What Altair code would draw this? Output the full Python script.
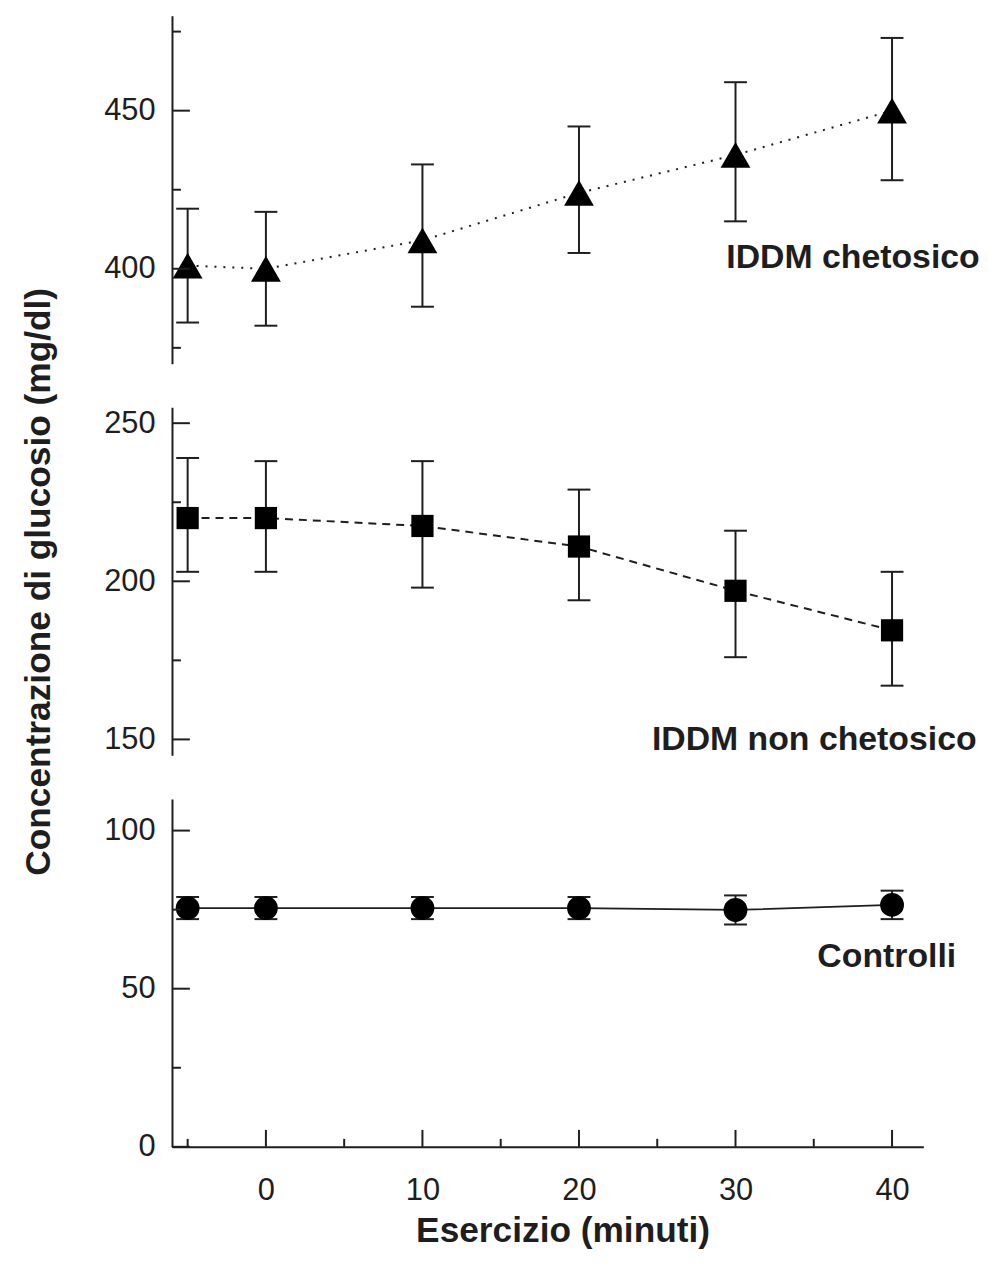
import altair as alt
import pandas as pd

# ---- data ----
minutes = [-5, 0, 10, 20, 30, 40]

ket_mean = [401, 400, 409, 424, 436, 450]
ket_low = [383, 382, 388, 405, 415, 428]
ket_high = [419, 418, 433, 445, 459, 473]

non_mean = [220, 220, 217.5, 211, 197, 184.5]
non_low = [203, 203, 198, 194, 176, 167]
non_high = [239, 238, 238, 229, 216, 203]

ctl_mean = [75.5, 75.5, 75.5, 75.5, 74.9, 76.5]
ctl_low = [72, 72, 72, 72, 70.3, 72]
ctl_high = [79, 79, 79, 79, 79.5, 81]

x_major = [0, 10, 20, 30, 40]
x_minor = [-5, 5, 15, 25, 35]

FONT = "Liberation Sans"
INK = "#1e1e1e"
W = 756
H = 350


def panel(mean, low, high, shape, msize, dash, ydom, ymajor, yminor,
          label, label_x, label_y, bottom=False, ytitle=None):
    df = pd.DataFrame({"t": minutes, "m": mean, "lo": low, "hi": high})
    caps = pd.DataFrame({"t": minutes * 2, "c": low + high})
    yscale = alt.Scale(domain=ydom, nice=False, zero=False)
    xscale = alt.Scale(domain=[-6, 42], nice=False, zero=False)
    if ytitle:
        yaxis = alt.Axis(values=ymajor, format="d", ticks=False, grid=False,
                         labelPadding=17, title=ytitle, titleAngle=270,
                         titleX=-123, titleY=H / 2, titleBaseline="alphabetic",
                         titleAlign="center", titleFontSize=35.5,
                         titleFontWeight="bold")
    else:
        yaxis = alt.Axis(values=ymajor, format="d", ticks=False, grid=False,
                         labelPadding=17, title=None)
    if bottom:
        xaxis = alt.Axis(values=x_major, ticks=False, grid=False,
                         labelPadding=29, title="Esercizio (minuti)",
                         titleX=393, titleY=95, titleBaseline="alphabetic",
                         titleAlign="center", titleFontSize=35.5,
                         titleFontWeight="bold")
    else:
        xaxis = None

    X = lambda f: alt.X(f, type="quantitative", scale=xscale, axis=xaxis)
    Y = lambda f: alt.Y(f, type="quantitative", scale=yscale, axis=yaxis)

    line_kw = dict(color=INK, strokeWidth=2 if dash else 1.8)
    if dash:
        line_kw["strokeDash"] = dash
    line = alt.Chart(df).mark_line(**line_kw).encode(x=X("t"), y=Y("m"))
    bars = alt.Chart(df).mark_rule(color=INK, strokeWidth=2).encode(
        x=X("t"), y=Y("lo"), y2="hi")
    capm = alt.Chart(caps).mark_tick(color=INK, orient="horizontal", size=23,
                                     thickness=2, opacity=1).encode(x=X("t"), y=Y("c"))
    pts = alt.Chart(df).mark_point(shape=shape, filled=True, size=msize,
                                   color="black", opacity=1).encode(x=X("t"), y=Y("m"))
    ymaj = alt.Chart(pd.DataFrame({"v": ymajor})).mark_rule(
        color=INK, strokeWidth=2).encode(y=Y("v"), x=alt.value(0), x2=alt.value(18))
    ymin = alt.Chart(pd.DataFrame({"v": yminor})).mark_rule(
        color=INK, strokeWidth=2).encode(y=Y("v"), x=alt.value(0), x2=alt.value(9))
    txt = alt.Chart(pd.DataFrame({"lx": [label_x], "ly": [label_y], "s": [label]})).mark_text(
        align="right", baseline="alphabetic", fontSize=34, fontWeight="bold",
        font=FONT, color=INK).encode(x=X("lx"), y=Y("ly"), text="s:N")
    layers = [line, bars, capm, pts, ymaj, ymin, txt]
    if bottom:
        xmaj = alt.Chart(pd.DataFrame({"v": x_major})).mark_rule(
            color=INK, strokeWidth=2).encode(x=X("v"), y=alt.value(H), y2=alt.value(H - 17))
        xmin = alt.Chart(pd.DataFrame({"v": x_minor})).mark_rule(
            color=INK, strokeWidth=2).encode(x=X("v"), y=alt.value(H), y2=alt.value(H - 8))
        layers += [xmaj, xmin]
    return alt.layer(*layers).properties(width=W, height=H)


top = panel(ket_mean, ket_low, ket_high, "triangle-up", 900, [2, 7],
            [370, 480], [400, 450], [375, 425, 475],
            "IDDM chetosico", 45.6, 400.2)
mid = panel(non_mean, non_low, non_high, "square", 500, [8, 6],
            [145, 255], [150, 200, 250], [175, 225],
            "IDDM non chetosico", 45.4, 146.6,
            ytitle="Concentrazione di glucosio (mg/dl)")
bot = panel(ctl_mean, ctl_low, ctl_high, "circle", 576, None,
            [0, 110], [0, 50, 100], [25, 75],
            "Controlli", 44.1, 56.8, bottom=True)

chart = alt.vconcat(top, mid, bot, spacing=44, bounds="flush").properties(
    padding={"left": 13, "top": 4, "right": 0, "bottom": 0},
    background="white",
).configure_view(stroke=None).configure_axis(
    labelFont=FONT, titleFont=FONT, labelFontSize=31, labelColor=INK,
    titleColor=INK, domainColor=INK, domainWidth=2,
)

chart.save("out.html", embed_options={"renderer": "svg", "actions": False})
